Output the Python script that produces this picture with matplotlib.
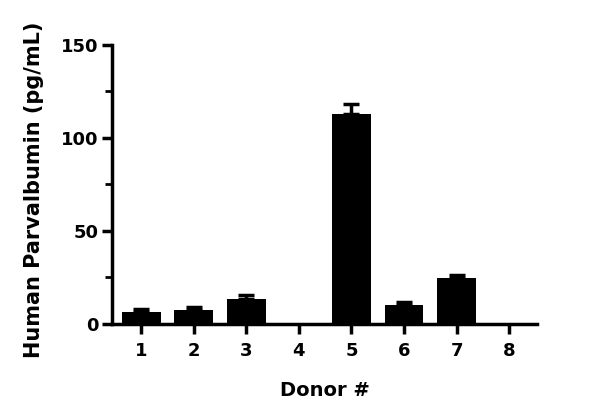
import matplotlib
matplotlib.use("Agg")
import matplotlib.pyplot as plt
import numpy as np

# values
donors = ["1", "2", "3", "4", "5", "6", "7", "8"]
means = [6.6, 7.3, 13.4, 0, 112.7, 9.9, 24.9, 0]
errors = [1.6, 1.8, 2.0, 0, 5.8, 1.9, 1.3, 0]

plt.rcParams['font.family'] = ['DejaVu Sans']
plt.rcParams['font.weight'] = 'bold'

fig = plt.figure(figsize=(6, 4.2), dpi=100)
ax = fig.add_axes([0.187, 0.229, 0.708, 0.664])

x = np.arange(1, len(donors) + 1)
ax.bar(x, means, width=0.74, color='black', zorder=2)

# only draw error bars where there is one
err = np.array(errors)
has = err > 0
ax.errorbar(x[has], np.array(means)[has], yerr=[np.zeros(has.sum()), err[has]],
            fmt='none', ecolor='black', elinewidth=2.5, capsize=6, capthick=2.5, zorder=1)

ax.set_xlim(0.45, 8.53)
ax.set_ylim(0, 150)
ax.set_yticks([0, 50, 100, 150])
ax.set_yticks([25, 75, 125], minor=True)
ax.set_xticks(x)
ax.set_xticklabels(donors)

for side in ['top', 'right']:
    ax.spines[side].set_visible(False)
for side in ['left', 'bottom']:
    ax.spines[side].set_linewidth(2.5)

ax.tick_params(axis='both', which='major', width=2.5, length=7, labelsize=13, pad=3)
ax.tick_params(axis='y', which='minor', width=2, length=5)
ax.tick_params(axis='x', pad=6)

ax.set_xlabel("Donor #", fontsize=14, fontweight='bold', labelpad=15)
ax.set_ylabel("Human Parvalbumin (pg/mL)", fontsize=15, fontweight='bold')
ax.yaxis.set_label_coords(-0.16, 0.48)

fig.savefig("out.png", dpi=100)
